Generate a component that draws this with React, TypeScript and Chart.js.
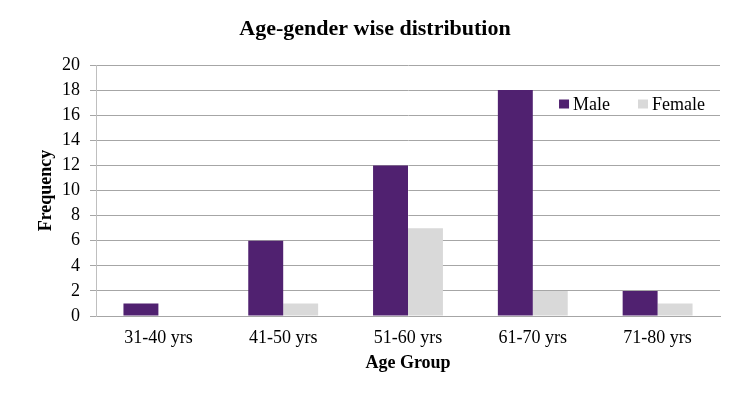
import React, { useEffect, useRef } from "react";
import { Chart, registerables } from "chart.js";

Chart.register(...registerables);

const categories = ["31-40 yrs", "41-50 yrs", "51-60 yrs", "61-70 yrs", "71-80 yrs"];
const maleValues = [1, 6, 12, 18, 2];
const femaleValues = [0, 1, 7, 2, 1];
const yTicks = { min: 0, max: 20, step: 2 };
const chartTitle = "Age-gender wise distribution";

const SERIF = '"Liberation Serif", "Times New Roman", serif';
const MALE_COLOR = "#502170";
const FEMALE_COLOR = "#D9D9D9";

const centeredTitle = {
  id: "centeredTitle",
  afterDraw(chart: any) {
    const { ctx, width } = chart;
    ctx.save();
    ctx.font = `bold 22px ${SERIF}`;
    ctx.textAlign = "center";
    ctx.textBaseline = "middle";
    ctx.fillStyle = "#000";
    ctx.fillText(chartTitle, width / 2, 29);
    ctx.restore();
  },
};

const insideLegend = {
  id: "insideLegend",
  afterDraw(chart: any) {
    const { ctx, chartArea } = chart;
    ctx.save();
    ctx.font = `18px ${SERIF}`;
    ctx.textBaseline = "middle";
    ctx.textAlign = "left";
    const box = 10;
    const gap = 4;
    const itemGap = 28;
    const items = chart.data.datasets.map((d: any) => ({
      label: d.label,
      color: d.backgroundColor,
      w: ctx.measureText(d.label).width,
    }));
    let total = 0;
    items.forEach((it: any, i: number) => {
      total += box + gap + it.w + (i < items.length - 1 ? itemGap : 0);
    });
    let x = chartArea.right - 15 - total;
    const y = chartArea.top + 39.5;
    items.forEach((it: any) => {
      ctx.fillStyle = it.color;
      ctx.fillRect(x, y - box / 2, box, box - 1);
      ctx.fillStyle = "#000";
      ctx.fillText(it.label, x + box + gap, y + 1);
      x += box + gap + it.w + itemGap;
    });
    ctx.restore();
  },
};

export default function App() {
  const ref = useRef<HTMLCanvasElement>(null);

  useEffect(() => {
    if (!ref.current) return;
    const chart = new Chart(ref.current, {
      type: "bar",
      data: {
        labels: categories,
        datasets: [
          {
            label: "Male",
            data: maleValues,
            backgroundColor: MALE_COLOR,
            categoryPercentage: 0.56,
            barPercentage: 1,
          },
          {
            label: "Female",
            data: femaleValues,
            backgroundColor: FEMALE_COLOR,
            categoryPercentage: 0.56,
            barPercentage: 1,
          },
        ],
      },
      options: {
        responsive: false,
        animation: false,
        layout: { padding: { left: 0, right: 30, top: 65, bottom: 0 } },
        plugins: {
          legend: { display: false },
          tooltip: { enabled: false },
          title: { display: false },
        },
        scales: {
          x: {
            grid: { display: false, drawTicks: false },
            border: { display: true, color: "#A6A6A6", width: 1 },
            ticks: {
              color: "#000",
              font: { family: SERIF, size: 18 },
              padding: 11,
              maxRotation: 0,
            },
            title: {
              display: true,
              text: "Age Group",
              color: "#000",
              font: { family: SERIF, size: 18, weight: "bold", lineHeight: 1.2 },
              padding: { top: 0, bottom: 35 },
            },
            afterFit(scale: any) {
              scale.height = 93;
            },
          },
          y: {
            min: yTicks.min,
            max: yTicks.max,
            grid: {
              color: "#A6A6A6",
              lineWidth: 1,
              drawTicks: true,
              tickLength: 6,
            },
            border: { display: true, color: "#BFBFBF", width: 1 },
            ticks: {
              stepSize: yTicks.step,
              color: "#000",
              font: { family: SERIF, size: 18 },
              padding: 10,
            },
            title: {
              display: true,
              text: "Frequency",
              color: "#000",
              font: { family: SERIF, size: 18, weight: "bold", lineHeight: 1.2 },
              padding: { top: 36, bottom: 0 },
            },
            afterFit(scale: any) {
              scale.width = 96;
            },
          },
        },
      },
      plugins: [centeredTitle, insideLegend],
    });
    return () => chart.destroy();
  }, []);

  return (
    <div style={{ position: "fixed", left: 0, top: 0, width: 750, height: 409, background: "#fff" }}>
      <canvas ref={ref} width={750} height={409} />
    </div>
  );
}
